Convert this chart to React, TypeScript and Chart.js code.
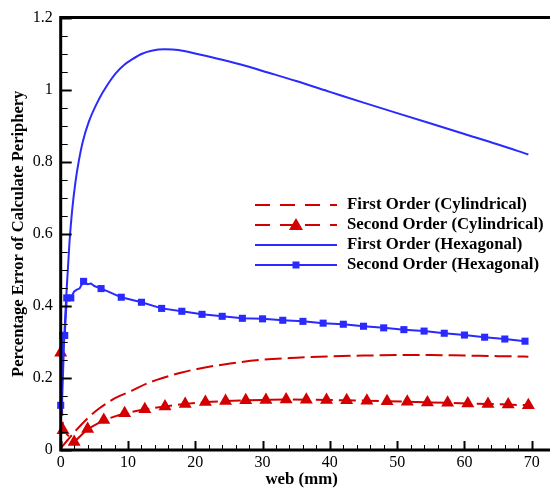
import React, { useEffect, useRef } from "react";
import { Chart, registerables } from "chart.js";

Chart.register(...registerables);

// ---- Data ----
const cylFirstX = [0, 1, 2.3, 4, 5.7, 8, 10.6, 13, 15.5, 18, 20.3, 25.2, 30, 35, 40, 45, 50, 55, 60, 65, 69.5];
const cylFirstY = [0.005, 0.027, 0.055, 0.088, 0.115, 0.143, 0.165, 0.186, 0.202, 0.215, 0.225, 0.24, 0.2505, 0.256, 0.26, 0.262, 0.2635, 0.2635, 0.262, 0.2605, 0.259];

const cylSecondX = [0, 0.15, 0.35, 2, 4, 6.4, 9.5, 12.5, 15.5, 18.5, 21.5, 24.5, 27.5, 30.5, 33.5, 36.5, 39.5, 42.5, 45.5, 48.5, 51.5, 54.5, 57.5, 60.5, 63.5, 66.5, 69.5];
const cylSecondY = [0.27, 0.13, 0.055, 0.022, 0.058, 0.083, 0.102, 0.113, 0.121, 0.128, 0.133, 0.136, 0.138, 0.139, 0.14, 0.1395, 0.139, 0.138, 0.137, 0.135, 0.134, 0.132, 0.131, 0.129, 0.128, 0.126, 0.124];
const cylSecondUnmarked = [1];

const hexFirstX = [0.15, 0.5, 0.9, 1.3, 1.7, 2.2, 2.7, 3.3, 4.2, 5.7, 7, 8.2, 9.5, 10.6, 12, 13.5, 15.5, 17.5, 20.3, 24, 27.7, 30, 35, 40, 45, 50, 55, 60, 65, 69.5];
const hexFirstY = [0.1, 0.3, 0.45, 0.575, 0.665, 0.745, 0.803, 0.857, 0.912, 0.974, 1.015, 1.046, 1.07, 1.084, 1.099, 1.108, 1.112, 1.11, 1.099, 1.083, 1.065, 1.052, 1.024, 0.994, 0.964, 0.935, 0.906, 0.877, 0.848, 0.82];

const hexSecondX = [0, 0.3, 0.6, 0.9, 1.5, 2.0, 2.4, 2.8, 3.4, 4.0, 4.5, 5.0, 6, 7, 8, 9, 12, 15, 18, 21, 24, 27, 30, 33, 36, 39, 42, 45, 48, 51, 54, 57, 60, 63, 66, 69];
const hexSecondY = [0.124, 0.318, 0.318, 0.422, 0.422, 0.44, 0.445, 0.448, 0.468, 0.46, 0.462, 0.455, 0.448, 0.44, 0.432, 0.424, 0.41, 0.393, 0.385, 0.3765, 0.371, 0.3655, 0.364, 0.36, 0.357, 0.352, 0.349, 0.3435, 0.339, 0.334, 0.33, 0.324, 0.319, 0.313, 0.308, 0.302];
const hexSecondUnmarked = [5, 6, 7, 9, 10, 11, 13, 14];

const xTicks = [0, 10, 20, 30, 40, 50, 60, 70];
const yTicks = [0, 0.2, 0.4, 0.6, 0.8, 1, 1.2];

const legendLabels = [
  "First Order (Cylindrical)",
  "Second Order (Cylindrical)",
  "First Order (Hexagonal)",
  "Second Order (Hexagonal)",
];
const xTitle = "web (mm)";
const yTitle = "Percentage Error of Calculate Periphery";

const BLUE = "#2a2aff";
const RED = "#d20000";
const FONT = "'Liberation Serif', 'Times New Roman', serif";

const pts = (xs: number[], ys: number[]) => xs.map((x, i) => ({ x, y: ys[i] }));

export default function App() {
  const ref = useRef<HTMLCanvasElement>(null);

  useEffect(() => {
    document.body.style.margin = "0";
    const canvas = ref.current!;

    const framePlugin = {
      id: "frame",
      afterDatasetsDraw(chart: any) {
        const { ctx } = chart;
        const xs = chart.scales.x;
        const ys = chart.scales.y;
        const L = xs.getPixelForValue(0);
        const B = ys.getPixelForValue(0);
        const T = ys.getPixelForValue(1.2);
        const R = chart.width;
        ctx.save();
        ctx.strokeStyle = "#000";
        for (let v = 0; v <= 1.2001; v += 0.05) {
          const y = Math.round(ys.getPixelForValue(v)) + 0.5;
          const major = Math.abs(v / 0.2 - Math.round(v / 0.2)) < 1e-6;
          ctx.lineWidth = major ? 2 : 1;
          ctx.beginPath();
          ctx.moveTo(L, y);
          ctx.lineTo(L + (major ? 11 : 7), y);
          ctx.stroke();
        }
        for (let v = 0; v <= 70.001; v += 2) {
          const x = Math.round(xs.getPixelForValue(v)) + 0.5;
          const major = v % 10 === 0;
          ctx.lineWidth = major ? 2 : 1;
          ctx.beginPath();
          ctx.moveTo(x, B);
          ctx.lineTo(x, B - (major ? 9 : 5));
          ctx.stroke();
        }
        ctx.lineWidth = 3;
        ctx.beginPath();
        ctx.moveTo(R, T);
        ctx.lineTo(L, T);
        ctx.lineTo(L, B);
        ctx.lineTo(R, B);
        ctx.stroke();
        ctx.restore();
      },
      afterDraw(chart: any) {
        const { ctx } = chart;
        const rows = [205, 225, 245, 265];
        const x1 = 255;
        const x2 = 337;
        const tx = 347;
        ctx.save();
        rows.forEach((y, i) => {
          const red = i < 2;
          ctx.strokeStyle = red ? RED : BLUE;
          ctx.fillStyle = red ? RED : BLUE;
          ctx.lineWidth = 2;
          ctx.setLineDash(red ? [15, 10] : []);
          ctx.beginPath();
          ctx.moveTo(x1, y);
          ctx.lineTo(x2, y);
          ctx.stroke();
          ctx.setLineDash([]);
          const cx = (x1 + x2) / 2;
          if (i === 1) {
            ctx.beginPath();
            ctx.moveTo(cx, y - 7);
            ctx.lineTo(cx + 7, y + 5);
            ctx.lineTo(cx - 7, y + 5);
            ctx.closePath();
            ctx.fill();
          }
          if (i === 3) {
            ctx.fillRect(cx - 3.5, y - 3.5, 7, 7);
          }
          ctx.fillStyle = "#000";
          ctx.font = `bold 16.8px ${FONT}`;
          ctx.textBaseline = "middle";
          ctx.textAlign = "left";
          ctx.fillText(legendLabels[i], tx, y);
        });
        ctx.restore();
      },
    };

    const chart = new Chart(canvas, {
      type: "line",
      data: {
        datasets: [
          {
            data: pts(hexFirstX, hexFirstY),
            borderColor: BLUE,
            borderWidth: 2,
            pointRadius: 0,
            cubicInterpolationMode: "monotone",
            clip: false,
          },
          {
            data: pts(hexSecondX, hexSecondY),
            borderColor: BLUE,
            backgroundColor: BLUE,
            borderWidth: 2,
            pointStyle: "rect",
            pointRadius: (c: any) => (hexSecondUnmarked.includes(c.dataIndex) ? 0 : 5),
            pointBorderWidth: 0,
            clip: false,
          },
          {
            data: pts(cylFirstX, cylFirstY),
            borderColor: RED,
            borderWidth: 2,
            borderDash: [17, 6],
            pointRadius: 0,
            cubicInterpolationMode: "monotone",
            clip: false,
          },
          {
            data: pts(cylSecondX, cylSecondY),
            borderColor: RED,
            backgroundColor: RED,
            borderWidth: 2,
            borderDash: [17, 6],
            pointStyle: "triangle",
            pointRadius: (c: any) => (cylSecondUnmarked.includes(c.dataIndex) ? 0 : 7.5),
            pointBorderWidth: 0,
            clip: false,
          },
        ] as any,
      },
      options: {
        responsive: false,
        animation: false,
        layout: { padding: { top: 14, left: 0, right: 0, bottom: 0 } },
        plugins: { legend: { display: false }, tooltip: { enabled: false } },
        scales: {
          x: {
            type: "linear",
            min: 0,
            max: 71.6,
            grid: { display: false, drawTicks: false },
            border: { display: false },
            afterBuildTicks: (s: any) => {
              s.ticks = xTicks.map((v) => ({ value: v }));
            },
            ticks: {
              color: "#000",
              font: { family: FONT, size: 16 },
              padding: 3,
              maxRotation: 0,
              autoSkip: false,
              callback: (v: any) => String(v),
            },
            title: {
              display: true,
              text: xTitle,
              color: "#000",
              font: { family: FONT, size: 16.8, weight: "bold" },
              padding: { top: 0, bottom: 1 },
            },
            afterFit: (s: any) => {
              s.height = 41;
            },
          },
          y: {
            type: "linear",
            min: 0,
            max: 1.2,
            grid: { display: false, drawTicks: false },
            border: { display: false },
            afterBuildTicks: (s: any) => {
              s.ticks = yTicks.map((v) => ({ value: v }));
            },
            ticks: {
              color: "#000",
              font: { family: FONT, size: 16 },
              padding: 8,
              callback: (v: any) => String(Math.round(v * 10) / 10),
            },
            title: {
              display: true,
              text: yTitle,
              color: "#000",
              font: { family: FONT, size: 16.5, weight: "bold" },
              padding: { top: 9, bottom: 0 },
            },
            afterFit: (s: any) => {
              s.width = 60.7;
            },
          },
        },
      } as any,
      plugins: [framePlugin],
    });
    return () => chart.destroy();
  }, []);

  return (
    <div style={{ width: 550, height: 491 }}>
      <canvas ref={ref} width={550} height={491} style={{ display: "block" }} />
    </div>
  );
}
